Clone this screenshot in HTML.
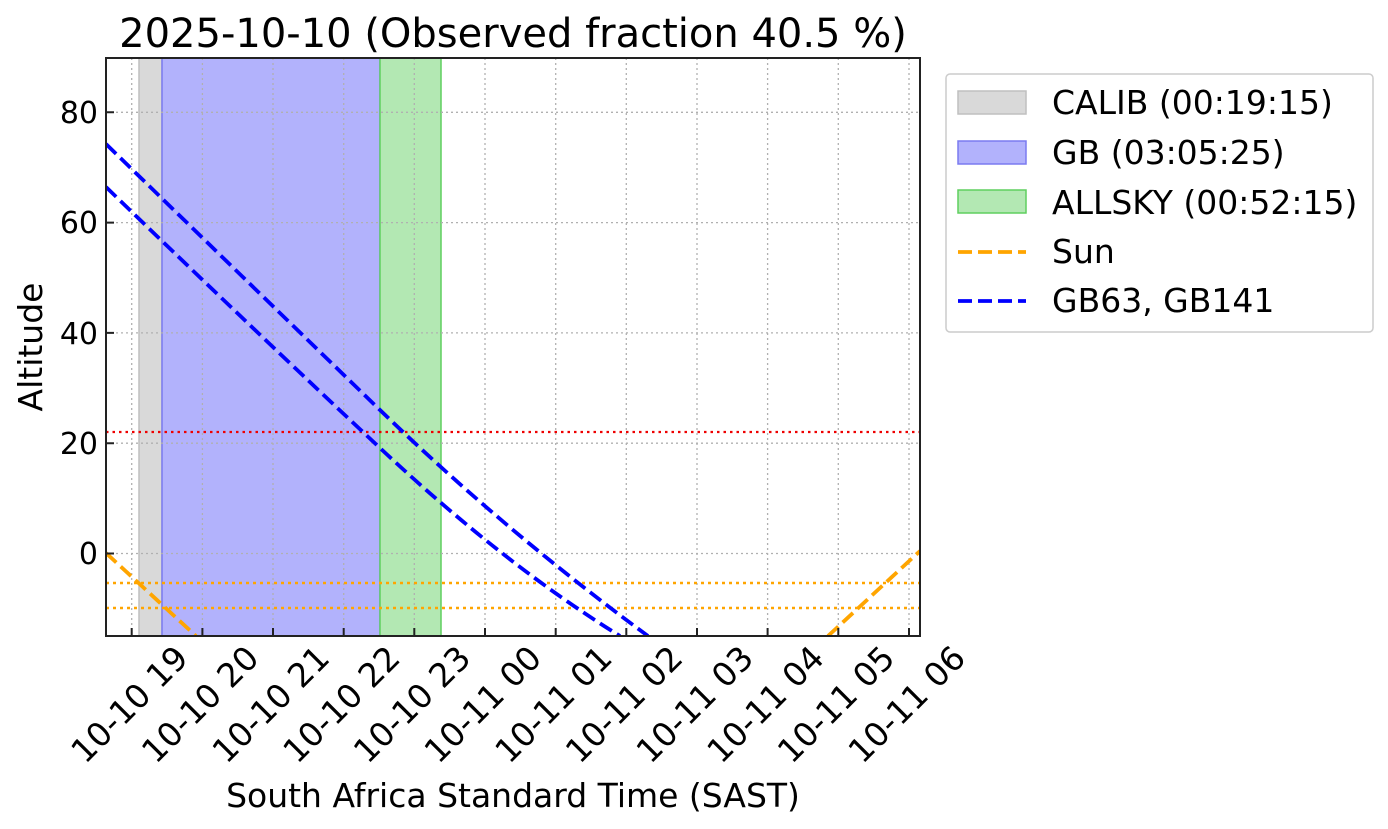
<!DOCTYPE html>
<html><head><meta charset="utf-8"><style>
html,body{margin:0;padding:0;background:#fff;}
svg{display:block;font-family:"DejaVu Sans","Liberation Sans",sans-serif;}
</style></head><body>
<svg width="1388" height="829" viewBox="0 0 1388 829" xmlns="http://www.w3.org/2000/svg">
<defs><clipPath id="c"><rect x="106" y="58" width="814" height="578"/></clipPath></defs>
<g clip-path="url(#c)">
<rect x="139" y="58" width="23" height="578" fill="#d9d9d9" stroke="#bfbfbf" stroke-width="1.5"/>
<rect x="162" y="58" width="218" height="578" fill="#b2b2fc" stroke="#7b7bf0" stroke-width="1.5"/>
<rect x="380" y="58" width="61" height="578" fill="#b3e8b3" stroke="#5fcf5f" stroke-width="1.5"/>
<g stroke="#b0b0b0" stroke-width="1.3" stroke-dasharray="2,3" fill="none">
<path d="M131.7 58V636M202.4 58V636M273 58V636M343.7 58V636M414.3 58V636M485 58V636M555.7 58V636M626.3 58V636M697 58V636M767.6 58V636M838.3 58V636M909 58V636"/>
<path d="M106 112.3H920M106 222.6H920M106 332.9H920M106 443.2H920M106 553.5H920"/>
</g>
<path d="M106 432H920" stroke="#e00" stroke-width="2.2" stroke-dasharray="2.5,4"/>
<path d="M106 583H920M106 608H920" stroke="#ffa500" stroke-width="2.6" stroke-dasharray="3,4"/>
<path d="M106 553L196 636M828 636L920 551" stroke="#ffa500" stroke-width="3.8" stroke-dasharray="14,6" fill="none"/>
<path d="M106 144Q255 289 380 410T648 636M106 187Q255 331 380 448T620 636" stroke="#0000ff" stroke-width="3.8" stroke-dasharray="14,6" fill="none"/>
</g>
<rect x="106" y="58" width="814" height="578" fill="none" stroke="#222" stroke-width="2"/>
<g stroke="#222" stroke-width="2">
<path d="M131.7 636v-8M202.4 636v-8M273 636v-8M343.7 636v-8M414.3 636v-8M485 636v-8M555.7 636v-8M626.3 636v-8M697 636v-8M767.6 636v-8M838.3 636v-8M909 636v-8"/>
<path d="M106 112.3h8M106 222.6h8M106 332.9h8M106 443.2h8M106 553.5h8"/>
</g>
<g font-size="30" text-anchor="end" fill="#000">
<text x="98" y="123">80</text><text x="98" y="233">60</text><text x="98" y="344">40</text><text x="98" y="454">20</text><text x="98" y="564">0</text>
</g>
<g font-size="33" text-anchor="end" fill="#000">
<text transform="translate(190,660) rotate(-45)">10-10 19</text>
<text transform="translate(260.7,660) rotate(-45)">10-10 20</text>
<text transform="translate(331.3,660) rotate(-45)">10-10 21</text>
<text transform="translate(402,660) rotate(-45)">10-10 22</text>
<text transform="translate(472.6,660) rotate(-45)">10-10 23</text>
<text transform="translate(543.3,660) rotate(-45)">10-11 00</text>
<text transform="translate(614,660) rotate(-45)">10-11 01</text>
<text transform="translate(684.6,660) rotate(-45)">10-11 02</text>
<text transform="translate(755.3,660) rotate(-45)">10-11 03</text>
<text transform="translate(826,660) rotate(-45)">10-11 04</text>
<text transform="translate(896.6,660) rotate(-45)">10-11 05</text>
<text transform="translate(967.3,660) rotate(-45)">10-11 06</text>
</g>
<text x="513" y="47" font-size="40" text-anchor="middle">2025-10-10 (Observed fraction 40.5 %)</text>
<text x="513" y="807" font-size="33" text-anchor="middle">South Africa Standard Time (SAST)</text>
<text transform="translate(42,347) rotate(-90)" font-size="33" text-anchor="middle">Altitude</text>
<rect x="946" y="74" width="427" height="258" rx="4" fill="#fff" stroke="#ccc" stroke-width="1.5"/>
<rect x="958" y="91" width="68" height="23" fill="#d9d9d9" stroke="#bfbfbf" stroke-width="1.5"/>
<rect x="958" y="141" width="68" height="23" fill="#b2b2fc" stroke="#7b7bf0" stroke-width="1.5"/>
<rect x="958" y="190" width="68" height="23" fill="#b3e8b3" stroke="#5fcf5f" stroke-width="1.5"/>
<path d="M958 252H1026" stroke="#ffa500" stroke-width="3.8" stroke-dasharray="14,6"/>
<path d="M958 301H1026" stroke="#0000ff" stroke-width="3.8" stroke-dasharray="14,6"/>
<g font-size="33" fill="#000">
<text x="1052" y="114">CALIB (00:19:15)</text>
<text x="1052" y="164">GB (03:05:25)</text>
<text x="1052" y="214">ALLSKY (00:52:15)</text>
<text x="1052" y="263">Sun</text>
<text x="1052" y="312">GB63, GB141</text>
</g>
</svg>
</body></html>
